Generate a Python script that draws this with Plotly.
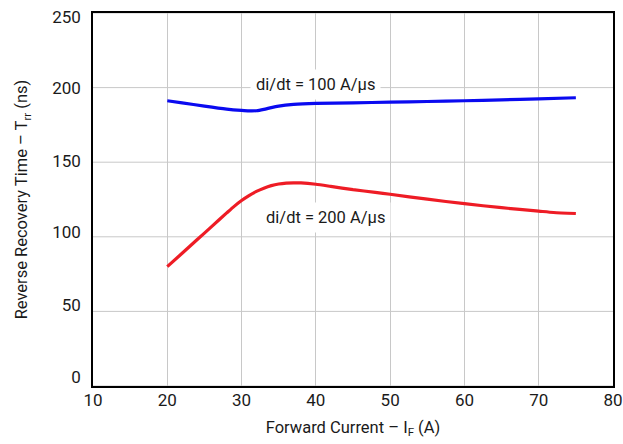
import plotly.graph_objects as go

# Data
x_100 = [20, 22, 25, 28, 30, 31, 32, 33, 34, 35, 37, 40, 45, 50, 55, 60, 65, 70, 75]
y_100 = [191.2, 189.8, 187.6, 185.6, 184.7, 184.4, 184.5, 185.4, 186.6, 187.6, 188.7, 189.4, 189.8, 190.2, 190.7, 191.2, 191.8, 192.5, 193.2]

x_200 = [20, 22, 24, 26, 28, 29, 30, 31, 32, 33, 34, 35, 36, 37, 38, 40, 42, 45, 48, 50, 55, 60, 65, 70, 72, 75]
y_200 = [80.0, 89.0, 98.0, 107.0, 116.0, 120.4, 124.3, 127.6, 130.4, 132.6, 134.3, 135.4, 136.0, 136.2, 136.1, 135.2, 133.8, 131.6, 129.8, 128.5, 125.2, 122.2, 119.5, 117.2, 116.3, 115.6]

label_100 = "di/dt = 100 A/µs"
label_200 = "di/dt = 200 A/µs"
label_100_pos = (40.0, 202)
label_200_pos = (41.3, 113)

x_ticks = [10, 20, 30, 40, 50, 60, 70, 80]
y_ticks = [0, 50, 100, 150, 200, 250]
y_tick_text = ["0", "50", "100", "150", "200", "250"]
# in the reference the y tick labels sit slightly off their gridlines
y_label_at = [5.9, 54, 103.2, 150.9, 199.5, 247.5]

FONT = "Roboto, 'Liberation Sans Narrow', Arial, sans-serif"
GRID = "#c8c8c8"

fig = go.Figure()
fig.add_trace(go.Scatter(x=x_100, y=y_100, mode="lines", line=dict(color="#0a0af0", width=3.2, shape="spline", smoothing=0.6), showlegend=False, hoverinfo="skip"))
fig.add_trace(go.Scatter(x=x_200, y=y_200, mode="lines", line=dict(color="#ee1c25", width=3.2, shape="spline", smoothing=0.6), showlegend=False, hoverinfo="skip"))

# horizontal gridlines at the real y tick values
for yv in y_ticks:
    fig.add_shape(type="line", xref="paper", x0=0, x1=1, yref="y", y0=yv, y1=yv,
                  line=dict(color=GRID, width=1), layer="below")

for txt, (ax_, ay_) in [(label_100, label_100_pos), (label_200, label_200_pos)]:
    fig.add_annotation(x=ax_, y=ay_, text=txt, showarrow=False, bgcolor="white",
                       borderpad=5, font=dict(family=FONT, size=16.5, color="#1a1a1a"))

fig.update_layout(
    width=623, height=444, autosize=False,
    margin=dict(l=93, r=10, t=13, b=58, autoexpand=False),
    paper_bgcolor="white", plot_bgcolor="white",
    font=dict(family=FONT, color="#1a1a1a"),
)
fig.update_xaxes(range=[10, 80], tickvals=x_ticks, showgrid=True, gridcolor=GRID, gridwidth=1,
                 showline=True, linecolor="black", linewidth=1.5, mirror=True, zeroline=False,
                 ticks="", tickfont=dict(size=17), automargin=False, ticklabelstandoff=-2,
                 title=dict(text="Forward Current – I<sub>F</sub> (A)", font=dict(size=16.5), standoff=12))
fig.update_yaxes(range=[0, 250], tickvals=y_label_at, ticktext=y_tick_text, showgrid=False,
                 showline=True, linecolor="black", linewidth=1.5, mirror=True, zeroline=False,
                 ticks="", tickfont=dict(size=17), automargin=False, ticklabelstandoff=7,
                 title=dict(text="Reverse Recovery Time – T<sub>rr</sub> (ns)", font=dict(size=16.5), standoff=20))

fig.write_html("out.html", config={"displayModeBar": False},
               post_script="document.body.style.margin='0';document.body.style.overflow='hidden';")
